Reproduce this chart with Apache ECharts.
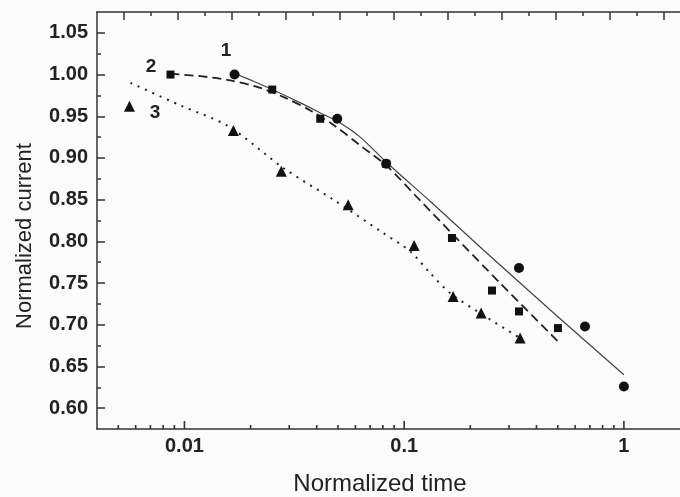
<!DOCTYPE html>
<html><head><meta charset="utf-8">
<script src="https://cdn.jsdelivr.net/npm/echarts@6/dist/echarts.min.js"></script>
<style>html,body{margin:0;padding:0;background:#fbfbfb}#c{width:680px;height:497px}</style>
</head><body><div id="c"></div>
<script>
// ---- data ----
const circles1 = [[0.0169,1.000],[0.0496,0.947],[0.0828,0.893],[0.333,0.768],[0.665,0.698],[1.0,0.626]];
const squares2 = [[0.00864,1.000],[0.0251,0.982],[0.0415,0.947],[0.0828,0.893],[0.165,0.804],[0.251,0.741],[0.333,0.716],[0.501,0.696]];
const triangles3 = [[0.00562,0.962],[0.0167,0.933],[0.0276,0.884],[0.0556,0.844],[0.111,0.795],[0.167,0.734],[0.224,0.714],[0.337,0.684]];
const fit1 = [[0.01705,1.001],[0.0210,0.991],[0.0251,0.982],[0.0337,0.966],[0.0415,0.954],[0.0512,0.942],[0.0631,0.925],[0.0837,0.894],[0.1313,0.848],[0.2287,0.790],[0.461,0.718],[1.0,0.640]];
const fit2 = [[0.00864,1.001],[0.01182,0.998],[0.01619,0.993],[0.02215,0.984],[0.02878,0.972],[0.03738,0.957],[0.04858,0.938],[0.0631,0.915],[0.0837,0.890],[0.1182,0.849],[0.167,0.808],[0.2732,0.750],[0.5012,0.680]];
const fit3 = [[0.005682,0.990],[0.00959,0.963],[0.01585,0.938],[0.02818,0.888],[0.04757,0.850],[0.08025,0.810],[0.1065,0.788],[0.1313,0.762],[0.1619,0.738],[0.2215,0.714],[0.3367,0.684]];
const xMajorTicks = [0.01, 0.1, 1];
const xMinorTicks = [0.005,0.006,0.007,0.008,0.009,0.02,0.03,0.04,0.05,0.06,0.07,0.08,0.09,0.2,0.3,0.4,0.5,0.6,0.7,0.8,0.9];
const yMajorTicks = [0.60,0.65,0.70,0.75,0.80,0.85,0.90,0.95,1.00,1.05];
const yMinorTicks = [0.625,0.675,0.725,0.775,0.825,0.875,0.925,0.975,1.025];
const topMajorTicks = [0.5,1.5,2.5,3.5,4.5,5.5,6.5,7.5,8.5,9.5,10.5];
const topMinorTicks = [1,2,3,4,5,6,7,8,9,10];
const curveLabels = ['1','2','3'];
const xName = 'Normalized time';
const yName = 'Normalized current';
const X_MIN = 0.004, X_MAX = 1.8, Y_MIN = 0.575, Y_MAX = 1.075;

const FONT = "'Liberation Sans', Arial, sans-serif";
const AX = '#333';
const chart = echarts.init(document.getElementById('c'), null, {renderer:'canvas'});
const lineAx = {show:true, onZero:false, lineStyle:{color:AX, width:1.5}};
const noLine = {show:false, onZero:false};
const tick = (vals, len) => ({show:true, inside:true, length:len, customValues:vals, lineStyle:{color:AX, width:1.5}});
// bottom log-axis ticks: thin symbols placed through the axis scale.
// The path's filled part is the upper half of its box, so the tick points inward.
const TICK_PATH = 'path://M0,0L1,0L1,1L0,1Z M0,2L1,2';
const xTickSeries = (vals, len) => ({
  type:'scatter', clip:false, z:5,
  data: vals.map(v => [v, Y_MIN]),
  symbol:TICK_PATH, symbolKeepAspect:false, symbolSize:[1.6, len*2],
  itemStyle:{color:AX, opacity:1, borderWidth:0}
});

chart.setOption({
  backgroundColor:'#fbfbfb',
  animation:false,
  grid:{left:97, right:0, top:12, bottom:68},
  xAxis:[
    {type:'log', min:X_MIN, max:X_MAX, position:'bottom', axisLine:lineAx, axisTick:{show:false},
     axisLabel:{customValues:xMajorTicks, formatter:v=>String(+v.toPrecision(3)), fontFamily:FONT, fontWeight:'bold', fontSize:20, color:'#222', margin:7},
     splitLine:{show:false}, minorTick:{show:false}},
    {type:'value', min:0, max:10.8, position:'top', axisLine:lineAx, axisTick:tick(topMajorTicks,8),
     axisLabel:{show:false}, splitLine:{show:false}},
    {type:'value', min:0, max:10.8, position:'top', axisLine:noLine, axisTick:tick(topMinorTicks,4),
     axisLabel:{show:false}, splitLine:{show:false}}
  ],
  yAxis:[
    {type:'value', min:Y_MIN, max:Y_MAX, position:'left', axisLine:lineAx, axisTick:tick(yMajorTicks,8),
     axisLabel:{customValues:yMajorTicks, formatter:v=>v.toFixed(2), fontFamily:FONT, fontWeight:'bold', fontSize:20, color:'#222', margin:9},
     splitLine:{show:false}},
    {type:'value', min:Y_MIN, max:Y_MAX, position:'left', axisLine:noLine, axisTick:tick(yMinorTicks,4),
     axisLabel:{show:false}, splitLine:{show:false}}
  ],
  graphic:[
    {type:'text', x:25, y:236, rotation:Math.PI/2, style:{text:yName, font:"22px 'Liberation Sans', Arial", fill:'#222', align:'center', verticalAlign:'middle'}},
    {type:'text', x:380, y:484, style:{text:xName, font:"24px 'Liberation Sans', Arial", fill:'#222', align:'center', verticalAlign:'middle'}},
    {type:'text', x:226, y:51, style:{text:curveLabels[0], font:"bold 19px 'Liberation Sans', Arial", fill:'#222', align:'center', verticalAlign:'middle'}},
    {type:'text', x:151, y:67, style:{text:curveLabels[1], font:"bold 19px 'Liberation Sans', Arial", fill:'#222', align:'center', verticalAlign:'middle'}},
    {type:'text', x:155, y:113, style:{text:curveLabels[2], font:"bold 19px 'Liberation Sans', Arial", fill:'#222', align:'center', verticalAlign:'middle'}}
  ],
  series:[
    xTickSeries(xMajorTicks, 8),
    xTickSeries(xMinorTicks, 4),
    {type:'line', data:fit1, smooth:0.3, symbol:'none', lineStyle:{color:'#444', width:1.2, type:'solid'}, z:2},
    {type:'line', data:fit2, smooth:0.3, symbol:'none', lineStyle:{color:'#222', width:1.8, type:[9,5]}, z:2},
    {type:'line', data:fit3, smooth:0.3, symbol:'none', lineStyle:{color:'#222', width:2, type:[2,6]}, z:2},
    {type:'scatter', data:circles1, symbol:'circle', symbolSize:10, itemStyle:{color:'#111', opacity:1}, z:3},
    {type:'scatter', data:squares2, symbol:'rect', symbolSize:8, itemStyle:{color:'#111', opacity:1}, z:3},
    {type:'scatter', data:triangles3, symbol:'triangle', symbolSize:11, itemStyle:{color:'#111', opacity:1}, z:3}
  ]
});
</script></body></html>
